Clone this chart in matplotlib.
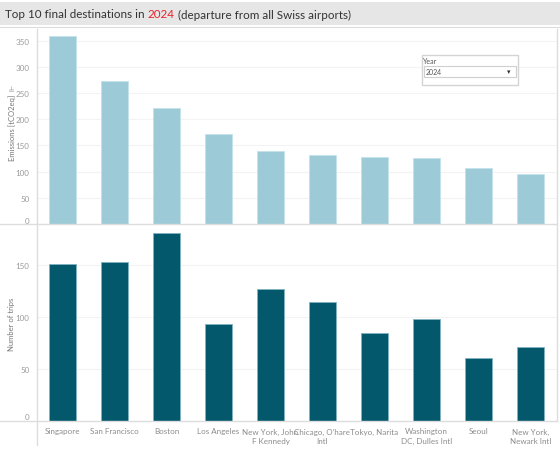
import matplotlib.pyplot as plt
import numpy as np
from matplotlib.lines import Line2D
from matplotlib.patches import Rectangle

# Data
categories = ['Singapore', 'San Francisco', 'Boston', 'Los Angeles',
              'New York, John\nF Kennedy', "Chicago, O'hare\nIntl",
              'Tokyo, Narita', 'Washington\nDC, Dulles Intl', 'Seoul',
              'New York,\nNewark Intl']
emissions = [359, 272, 222, 172, 139, 132, 128, 125, 107, 95]
trips = [151, 153, 181, 93, 127, 115, 85, 98, 60, 71]
emission_ticks = [0, 50, 100, 150, 200, 250, 300, 350]
trip_ticks = [0, 50, 100, 150]

plt.rcParams['font.family'] = ['Lato', 'DejaVu Sans']

W, H = 560, 452
fig = plt.figure(figsize=(W / 100, H / 100), dpi=100)

def fx(px):
    return px / W

def fy(py):
    return 1 - py / H

left, right = 36.5, 556.5
ax1 = fig.add_axes([fx(left), fy(225), fx(right - left), fy(30) - fy(225)])
ax2 = fig.add_axes([fx(left), fy(421.5), fx(right - left), fy(225) - fy(421.5)])

x = np.arange(len(categories))
light = '#9ccad6'
dark = '#03586c'

ax1.bar(x, emissions, width=0.52, color=light, edgecolor='#c4e2ea', linewidth=0.6, zorder=2)
ax2.bar(x, trips, width=0.52, color=dark, edgecolor='#7fb3c0', linewidth=0.6, zorder=2)

ax1.set_ylim(0, 372)
ax2.set_ylim(0, 190)
for ax, ticks in [(ax1, emission_ticks), (ax2, trip_ticks)]:
    ax.set_xlim(-0.5, len(categories) - 0.5)
    ax.set_yticks(ticks)
    ax.set_yticklabels([str(t) for t in ticks])
    ax.tick_params(axis='y', length=0, pad=5, labelsize=5.8, labelcolor='#9a9a9a')
    ax.grid(axis='y', color='#f3f3f3', linewidth=0.8, zorder=0)
    for s in ax.spines.values():
        s.set_visible(False)
    ax.get_yticklabels()[0].set_va('bottom')

ax1.set_xticks([])
ax2.set_xticks(x)
ax2.set_xticklabels(categories, fontsize=5.8, color='#8c8c8c', linespacing=1.4)
ax2.tick_params(axis='x', length=0, pad=5)

# Axis titles
fig.text(fx(12), fy(128), 'Emissions [tCO2eq]', rotation=90, fontsize=5.5,
         color='#777777', ha='center', va='center')
fig.text(fx(12), fy(88), '\u22a9', rotation=90, fontsize=5,
         color='#777777', ha='center', va='center', family=['DejaVu Sans'])
fig.text(fx(12), fy(324), 'Number of trips', rotation=90, fontsize=5.5,
         color='#777777', ha='center', va='center')

# Frame lines
line_c = '#dddddd'
fig.add_artist(Line2D([0, fx(right)], [fy(225), fy(225)], color=line_c, lw=1))
fig.add_artist(Line2D([0, fx(right)], [fy(422), fy(422)], color=line_c, lw=1))
fig.add_artist(Line2D([fx(left), fx(left)], [fy(30), fy(446)], color=line_c, lw=1))
fig.add_artist(Line2D([fx(right), fx(right)], [fy(30), fy(422)], color=line_c, lw=1))

# Title bar
fig.add_artist(Rectangle((0, fy(26)), 1, fy(3) - fy(26), color='#e6e6e6', lw=0))
fig.add_artist(Line2D([0, 1], [fy(27.5), fy(27.5)], color='#dcdcdc', lw=0.8))
fs = 8.4
t1 = fig.text(fx(5), fy(15), 'Top 10 final destinations in', fontsize=fs,
              color='#333333', va='center')
fig.canvas.draw()
r = fig.canvas.get_renderer()
bb = t1.get_window_extent(r)
t2 = fig.text((bb.x1 + 3) / W, fy(15), '2024', fontsize=fs, color='#e8212b', va='center')
bb2 = t2.get_window_extent(r)
fig.text((bb2.x1 + 3) / W, fy(15), '(departure from all Swiss airports)', fontsize=fs,
         color='#333333', va='center')

# Year filter widget
fig.add_artist(Rectangle((fx(421.5), fy(86)), fx(96), fy(55.5) - fy(86),
                         facecolor='white', edgecolor='#d4d4d4', lw=1))
fig.text(fx(423), fy(61), 'Year', fontsize=5, color='#555555', va='center')
fig.add_artist(Rectangle((fx(423.5), fy(78)), fx(92.5), fy(67) - fy(78),
                         facecolor='white', edgecolor='#cfcfcf', lw=0.8))
fig.text(fx(425.5), fy(72.5), '2024', fontsize=5, color='#555555', va='center')
fig.text(fx(509), fy(72.5), '\u25be', fontsize=5, color='#333333', va='center',
         ha='center', family=['DejaVu Sans'])

fig.savefig('out.png', dpi=100)
